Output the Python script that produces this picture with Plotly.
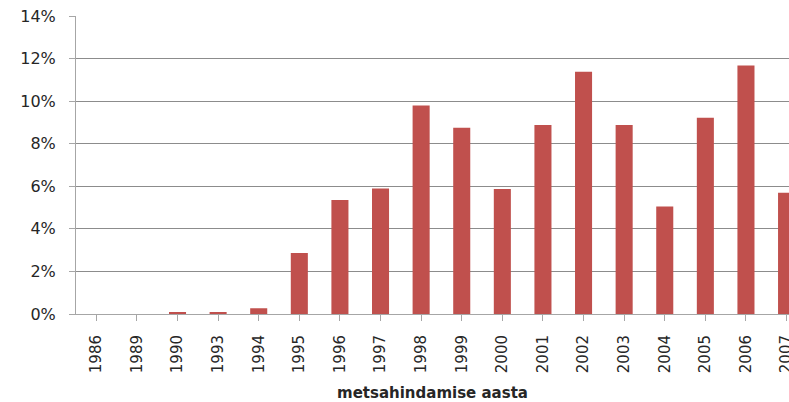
import plotly.graph_objects as go

years = ["1986", "1989", "1990", "1993", "1994", "1995", "1996", "1997", "1998",
         "1999", "2000", "2001", "2002", "2003", "2004", "2005", "2006", "2007"]
shares = [0.0, 0.0, 0.05, 0.05, 0.27, 2.86, 5.35, 5.9, 9.8,
          8.75, 5.87, 8.88, 11.38, 8.88, 5.05, 9.22, 11.68, 5.7]
y_ticks = [0, 2, 4, 6, 8, 10, 12, 14]
y_labels = [f"{v}%" for v in y_ticks]

fig = go.Figure(go.Bar(
    x=list(range(len(years))), y=shares,
    marker=dict(color="#C0504D", line=dict(width=0)),
    width=0.42,
))

font_family = "DejaVu Sans, sans-serif"

fig.update_layout(
    width=789, height=402,
    margin=dict(l=76, r=0, t=16, b=88, autoexpand=False),
    plot_bgcolor="white", paper_bgcolor="white",
    showlegend=False,
    font=dict(family=font_family, color="#262626"),
    xaxis=dict(
        tickmode="array",
        tickvals=list(range(len(years))),
        ticktext=years,
        tickangle=-90,
        range=[-0.5, 17.06],
        automargin=False,
        showgrid=False,
        showline=True, linecolor="#A6A6A6", linewidth=1,
        ticks="outside", ticklen=6, tickcolor="#A6A6A6",
        tickson="boundaries",
        ticklabeloverflow="allow",
        ticklabelstandoff=8,
        tickfont=dict(size=15, color="#262626"),
        title=dict(text="<b>metsahindamise aasta</b>", font=dict(size=15, color="#262626"), standoff=16),
    ),
    yaxis=dict(
        range=[0, 14],
        tickmode="array",
        tickvals=y_ticks,
        ticktext=y_labels,
        automargin=False,
        showgrid=True, gridcolor="#8C8C8C", gridwidth=1,
        showline=True, linecolor="#A6A6A6", linewidth=1,
        ticks="outside", ticklen=6, tickcolor="#A6A6A6",
        ticklabelstandoff=10,
        tickfont=dict(size=16, color="#262626"),
        zeroline=False,
    ),
)

fig.write_html("out.html", config={"displayModeBar": False},
               post_script="document.body.style.margin='0';")
